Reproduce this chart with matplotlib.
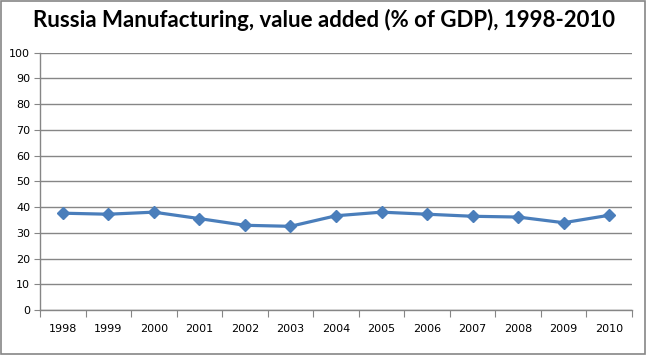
import matplotlib
matplotlib.use("Agg")
import matplotlib.pyplot as plt
from matplotlib.patches import Rectangle
import numpy as np

years = ["1998", "1999", "2000", "2001", "2002", "2003", "2004",
         "2005", "2006", "2007", "2008", "2009", "2010"]
values = [37.6, 37.2, 38.0, 35.5, 32.9, 32.5, 36.6,
          38.0, 37.2, 36.4, 36.1, 33.9, 36.8]
y_ticks = list(range(0, 101, 10))

grid_color = "#868686"
line_color = "#4A7EBB"

fig = plt.figure(figsize=(6.48, 3.56), dpi=100)
ax = fig.add_axes([0.0617, 0.1292, 0.9136, 0.7233])

x = np.arange(len(years))
ax.plot(x, values, color=line_color, linewidth=2.3, marker="D",
        markersize=6.5, markeredgecolor=line_color, markerfacecolor=line_color,
        zorder=3)

ax.set_ylim(0, 100)
ax.set_xlim(-0.5, len(years) - 0.5)
ax.set_yticks(y_ticks)
ax.set_yticklabels([str(v) for v in y_ticks])
ax.yaxis.grid(True, color=grid_color, linewidth=1)
ax.set_axisbelow(True)

# category ticks between years, labels centred
ax.set_xticks(np.arange(-0.5, len(years), 1.0))
ax.set_xticklabels([])
ax.set_xticks(x, minor=True)
ax.set_xticklabels(years, minor=True)
ax.tick_params(axis="x", which="major", length=5, color=grid_color, direction="out")
ax.tick_params(axis="x", which="minor", length=0, pad=10, labelsize=8)
ax.tick_params(axis="y", length=4, color=grid_color, labelsize=8, pad=3)

for side in ["top", "right"]:
    ax.spines[side].set_visible(False)
for side in ["left", "bottom"]:
    ax.spines[side].set_color(grid_color)
    ax.spines[side].set_linewidth(1)

fig.text(0.5, 0.944, "Russia Manufacturing, value added (% of GDP), 1998-2010",
         ha="center", va="center", fontsize=16, fontweight="bold",
         family=["Lato", "DejaVu Sans"])

# outer chart border
fig.patches.append(Rectangle((0.002, 0.006), 0.994, 0.99, transform=fig.transFigure,
                             fill=False, edgecolor=grid_color, linewidth=1.2))

fig.savefig("out.png", dpi=100)
